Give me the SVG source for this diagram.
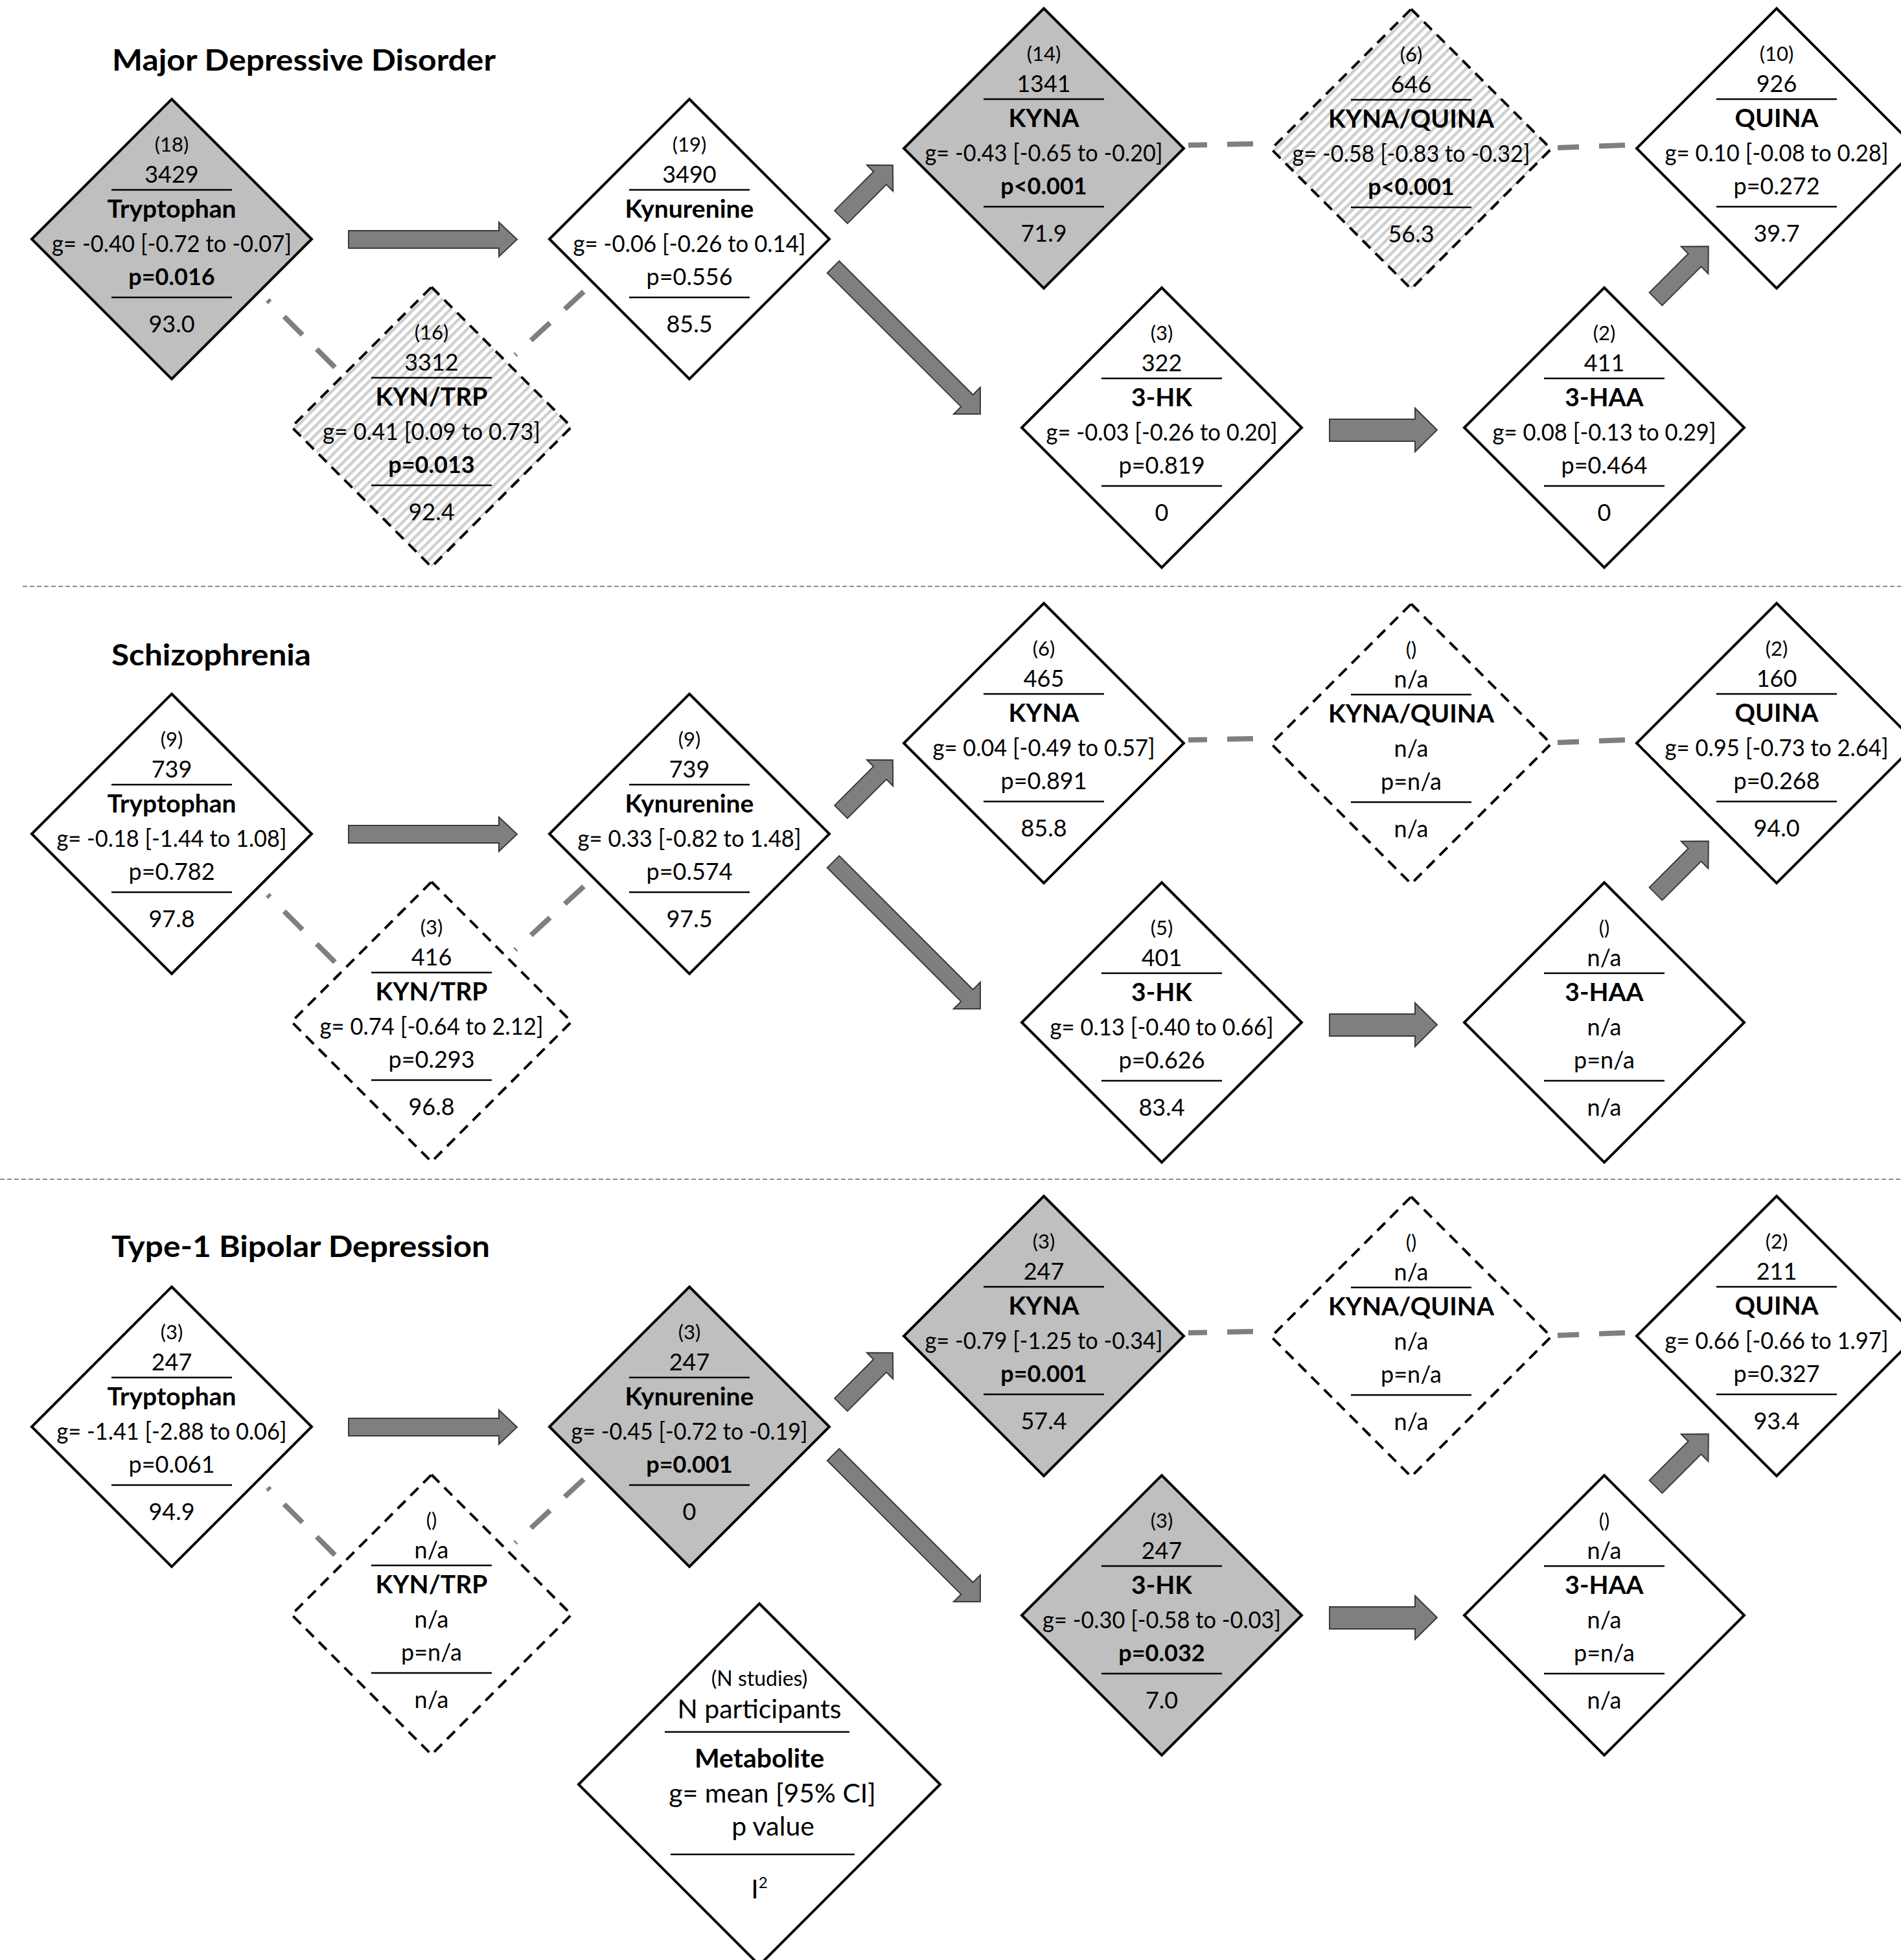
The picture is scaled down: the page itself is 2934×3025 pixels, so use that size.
<svg xmlns="http://www.w3.org/2000/svg" width="2934" height="3025" viewBox="0 0 2934 3025">
<defs>
<pattern id="hatch" width="10" height="10" patternUnits="userSpaceOnUse" patternTransform="rotate(45)">
<rect width="10" height="10" fill="#fff"/>
<rect width="4.5" height="10" fill="#cfcfcf"/>
</pattern>
<style>
text{font-family:Lato,"Liberation Sans",sans-serif;fill:#000;text-anchor:middle}
.t{font-size:46px;font-weight:bold;text-anchor:start}
.n{font-size:31px}
.m{font-size:36px}
.b{font-weight:bold}
.nm{font-size:39px;font-weight:bold}
.d{stroke:#000;stroke-width:4;stroke-linejoin:miter}
.gray{fill:#bfbfbf}
.white{fill:#fff}
.hatch{fill:url(#hatch)}
.dash{stroke-dasharray:17 11}
.hl{stroke:#000;stroke-width:2.5}
.sep{stroke:#8c8c8c;stroke-width:2;stroke-dasharray:7 4}
.arr{fill:#7f7f7f;stroke:#3a3a3a;stroke-width:2}
.con{stroke:#7f7f7f;stroke-width:8;stroke-dasharray:40 31;fill:none}
</style>
</defs>
<rect width="2934" height="3025" fill="#fff"/>

<line class="sep" x1="35" y1="905" x2="2934" y2="905"/>
<line class="sep" x1="0" y1="1820" x2="2934" y2="1820"/>

<text class="t" x="173" y="109" textLength="592" lengthAdjust="spacingAndGlyphs">Major Depressive Disorder</text>
<text class="t" x="172" y="1027" textLength="308" lengthAdjust="spacingAndGlyphs">Schizophrenia</text>
<text class="t" x="172" y="1940" textLength="584" lengthAdjust="spacingAndGlyphs">Type-1 Bipolar Depression</text>

<g id="connectors">
<g transform="translate(0,0)">
<path class="arr" d="M538,356 H770 V343 L798,369.5 L770,396 V383 H538 Z"/>
<path class="arr" d="M0,-14 H85 V-28.5 L113,0 L85,28.5 V14 H0 Z" transform="translate(1298,335) rotate(-45)"/>
<path class="arr" d="M0,-13 H292 V-29 L321,0 L292,29 V13 H0 Z" transform="translate(1286,412) rotate(45)"/>
<path class="arr" d="M2052,647 H2184 V630 L2218,663.5 L2184,697 V681 H2052 Z"/>
<path class="arr" d="M0,-14 H85 V-29.5 L115,0 L85,29.5 V14 H0 Z" transform="translate(2555.5,461.5) rotate(-45)"/>
<path class="con" d="M517,567 L413,463"/>
<path class="con" d="M901,450 L795,548"/>
<path class="con" d="M1934,222 L1834,224"/>
<path class="con" d="M2508,224 L2404,228"/>
</g>
<g transform="translate(0,918)">
<path class="arr" d="M538,356 H770 V343 L798,369.5 L770,396 V383 H538 Z"/>
<path class="arr" d="M0,-14 H85 V-28.5 L113,0 L85,28.5 V14 H0 Z" transform="translate(1298,335) rotate(-45)"/>
<path class="arr" d="M0,-13 H292 V-29 L321,0 L292,29 V13 H0 Z" transform="translate(1286,412) rotate(45)"/>
<path class="arr" d="M2052,647 H2184 V630 L2218,663.5 L2184,697 V681 H2052 Z"/>
<path class="arr" d="M0,-14 H85 V-29.5 L115,0 L85,29.5 V14 H0 Z" transform="translate(2555.5,461.5) rotate(-45)"/>
<path class="con" d="M517,567 L413,463"/>
<path class="con" d="M901,450 L795,548"/>
<path class="con" d="M1934,222 L1834,224"/>
<path class="con" d="M2508,224 L2404,228"/>
</g>
<g transform="translate(0,1833)">
<path class="arr" d="M538,356 H770 V343 L798,369.5 L770,396 V383 H538 Z"/>
<path class="arr" d="M0,-14 H85 V-28.5 L113,0 L85,28.5 V14 H0 Z" transform="translate(1298,335) rotate(-45)"/>
<path class="arr" d="M0,-13 H292 V-29 L321,0 L292,29 V13 H0 Z" transform="translate(1286,412) rotate(45)"/>
<path class="arr" d="M2052,647 H2184 V630 L2218,663.5 L2184,697 V681 H2052 Z"/>
<path class="arr" d="M0,-14 H85 V-29.5 L115,0 L85,29.5 V14 H0 Z" transform="translate(2555.5,461.5) rotate(-45)"/>
<path class="con" d="M517,567 L413,463"/>
<path class="con" d="M901,450 L795,548"/>
<path class="con" d="M1934,222 L1834,224"/>
<path class="con" d="M2508,224 L2404,228"/>
</g>
</g>

<!-- Row 1: MDD -->
<g id="mdd-trp" transform="translate(265,369)">
<polygon class="d gray" points="0,-216 216,0 0,216 -216,0"/>
<text class="n" y="-135">(18)</text><text class="m" y="-87">3429</text>
<line class="hl" x1="-93" y1="-76" x2="93" y2="-76"/>
<text class="nm" y="-33">Tryptophan</text>
<text class="m" y="20" textLength="370" lengthAdjust="spacingAndGlyphs">g= -0.40 [-0.72 to -0.07]</text>
<text class="m b" y="71">p=0.016</text>
<line class="hl" x1="-93" y1="90" x2="93" y2="90"/>
<text class="m" y="144">93.0</text>
</g>
<g id="mdd-kyntrp" transform="translate(666,659)">
<polygon class="d hatch dash" points="0,-216 216,0 0,216 -216,0"/>
<text class="n" y="-135">(16)</text><text class="m" y="-87">3312</text>
<line class="hl" x1="-93" y1="-76" x2="93" y2="-76"/>
<text class="nm" y="-33">KYN/TRP</text>
<text class="m" y="20" textLength="336" lengthAdjust="spacingAndGlyphs">g= 0.41 [0.09 to 0.73]</text>
<text class="m b" y="71">p=0.013</text>
<line class="hl" x1="-93" y1="90" x2="93" y2="90"/>
<text class="m" y="144">92.4</text>
</g>
<g id="mdd-kyn" transform="translate(1064,369)">
<polygon class="d white" points="0,-216 216,0 0,216 -216,0"/>
<text class="n" y="-135">(19)</text><text class="m" y="-87">3490</text>
<line class="hl" x1="-93" y1="-76" x2="93" y2="-76"/>
<text class="nm" y="-33">Kynurenine</text>
<text class="m" y="20" textLength="359" lengthAdjust="spacingAndGlyphs">g= -0.06 [-0.26 to 0.14]</text>
<text class="m" y="71">p=0.556</text>
<line class="hl" x1="-93" y1="90" x2="93" y2="90"/>
<text class="m" y="144">85.5</text>
</g>
<g id="mdd-kyna" transform="translate(1611,229)">
<polygon class="d gray" points="0,-216 216,0 0,216 -216,0"/>
<text class="n" y="-135">(14)</text><text class="m" y="-87">1341</text>
<line class="hl" x1="-93" y1="-76" x2="93" y2="-76"/>
<text class="nm" y="-33">KYNA</text>
<text class="m" y="20" textLength="367" lengthAdjust="spacingAndGlyphs">g= -0.43 [-0.65 to -0.20]</text>
<text class="m b" y="71">p&lt;0.001</text>
<line class="hl" x1="-93" y1="90" x2="93" y2="90"/>
<text class="m" y="144">71.9</text>
</g>
<g id="mdd-kynaquina" transform="translate(2178,230)">
<polygon class="d hatch dash" points="0,-216 216,0 0,216 -216,0"/>
<text class="n" y="-135">(6)</text><text class="m" y="-87">646</text>
<line class="hl" x1="-93" y1="-76" x2="93" y2="-76"/>
<text class="nm" y="-33">KYNA/QUINA</text>
<text class="m" y="20" textLength="367" lengthAdjust="spacingAndGlyphs">g= -0.58 [-0.83 to -0.32]</text>
<text class="m b" y="71">p&lt;0.001</text>
<line class="hl" x1="-93" y1="90" x2="93" y2="90"/>
<text class="m" y="144">56.3</text>
</g>
<g id="mdd-quina" transform="translate(2742,229)">
<polygon class="d white" points="0,-216 216,0 0,216 -216,0"/>
<text class="n" y="-135">(10)</text><text class="m" y="-87">926</text>
<line class="hl" x1="-93" y1="-76" x2="93" y2="-76"/>
<text class="nm" y="-33">QUINA</text>
<text class="m" y="20" textLength="345" lengthAdjust="spacingAndGlyphs">g= 0.10 [-0.08 to 0.28]</text>
<text class="m" y="71">p=0.272</text>
<line class="hl" x1="-93" y1="90" x2="93" y2="90"/>
<text class="m" y="144">39.7</text>
</g>
<g id="mdd-3hk" transform="translate(1793,660)">
<polygon class="d white" points="0,-216 216,0 0,216 -216,0"/>
<text class="n" y="-135">(3)</text><text class="m" y="-87">322</text>
<line class="hl" x1="-93" y1="-76" x2="93" y2="-76"/>
<text class="nm" y="-33">3-HK</text>
<text class="m" y="20" textLength="357" lengthAdjust="spacingAndGlyphs">g= -0.03 [-0.26 to 0.20]</text>
<text class="m" y="71">p=0.819</text>
<line class="hl" x1="-93" y1="90" x2="93" y2="90"/>
<text class="m" y="144">0</text>
</g>
<g id="mdd-3haa" transform="translate(2476,660)">
<polygon class="d white" points="0,-216 216,0 0,216 -216,0"/>
<text class="n" y="-135">(2)</text><text class="m" y="-87">411</text>
<line class="hl" x1="-93" y1="-76" x2="93" y2="-76"/>
<text class="nm" y="-33">3-HAA</text>
<text class="m" y="20" textLength="345" lengthAdjust="spacingAndGlyphs">g= 0.08 [-0.13 to 0.29]</text>
<text class="m" y="71">p=0.464</text>
<line class="hl" x1="-93" y1="90" x2="93" y2="90"/>
<text class="m" y="144">0</text>
</g>

<!-- Row 2: Schizophrenia -->
<g id="scz-trp" transform="translate(265,1287)">
<polygon class="d white" points="0,-216 216,0 0,216 -216,0"/>
<text class="n" y="-135">(9)</text><text class="m" y="-87">739</text>
<line class="hl" x1="-93" y1="-76" x2="93" y2="-76"/>
<text class="nm" y="-33">Tryptophan</text>
<text class="m" y="20" textLength="355" lengthAdjust="spacingAndGlyphs">g= -0.18 [-1.44 to 1.08]</text>
<text class="m" y="71">p=0.782</text>
<line class="hl" x1="-93" y1="90" x2="93" y2="90"/>
<text class="m" y="144">97.8</text>
</g>
<g id="scz-kyntrp" transform="translate(666,1577)">
<polygon class="d white dash" points="0,-216 216,0 0,216 -216,0"/>
<text class="n" y="-135">(3)</text><text class="m" y="-87">416</text>
<line class="hl" x1="-93" y1="-76" x2="93" y2="-76"/>
<text class="nm" y="-33">KYN/TRP</text>
<text class="m" y="20" textLength="345" lengthAdjust="spacingAndGlyphs">g= 0.74 [-0.64 to 2.12]</text>
<text class="m" y="71">p=0.293</text>
<line class="hl" x1="-93" y1="90" x2="93" y2="90"/>
<text class="m" y="144">96.8</text>
</g>
<g id="scz-kyn" transform="translate(1064,1287)">
<polygon class="d white" points="0,-216 216,0 0,216 -216,0"/>
<text class="n" y="-135">(9)</text><text class="m" y="-87">739</text>
<line class="hl" x1="-93" y1="-76" x2="93" y2="-76"/>
<text class="nm" y="-33">Kynurenine</text>
<text class="m" y="20" textLength="345" lengthAdjust="spacingAndGlyphs">g= 0.33 [-0.82 to 1.48]</text>
<text class="m" y="71">p=0.574</text>
<line class="hl" x1="-93" y1="90" x2="93" y2="90"/>
<text class="m" y="144">97.5</text>
</g>
<g id="scz-kyna" transform="translate(1611,1147)">
<polygon class="d white" points="0,-216 216,0 0,216 -216,0"/>
<text class="n" y="-135">(6)</text><text class="m" y="-87">465</text>
<line class="hl" x1="-93" y1="-76" x2="93" y2="-76"/>
<text class="nm" y="-33">KYNA</text>
<text class="m" y="20" textLength="343" lengthAdjust="spacingAndGlyphs">g= 0.04 [-0.49 to 0.57]</text>
<text class="m" y="71">p=0.891</text>
<line class="hl" x1="-93" y1="90" x2="93" y2="90"/>
<text class="m" y="144">85.8</text>
</g>
<g id="scz-kynaquina" transform="translate(2178,1148)">
<polygon class="d white dash" points="0,-216 216,0 0,216 -216,0"/>
<text class="n" y="-135">()</text><text class="m" y="-87">n/a</text>
<line class="hl" x1="-93" y1="-76" x2="93" y2="-76"/>
<text class="nm" y="-33">KYNA/QUINA</text>
<text class="m" y="20">n/a</text>
<text class="m" y="71">p=n/a</text>
<line class="hl" x1="-93" y1="90" x2="93" y2="90"/>
<text class="m" y="144">n/a</text>
</g>
<g id="scz-quina" transform="translate(2742,1147)">
<polygon class="d white" points="0,-216 216,0 0,216 -216,0"/>
<text class="n" y="-135">(2)</text><text class="m" y="-87">160</text>
<line class="hl" x1="-93" y1="-76" x2="93" y2="-76"/>
<text class="nm" y="-33">QUINA</text>
<text class="m" y="20" textLength="345" lengthAdjust="spacingAndGlyphs">g= 0.95 [-0.73 to 2.64]</text>
<text class="m" y="71">p=0.268</text>
<line class="hl" x1="-93" y1="90" x2="93" y2="90"/>
<text class="m" y="144">94.0</text>
</g>
<g id="scz-3hk" transform="translate(1793,1578)">
<polygon class="d white" points="0,-216 216,0 0,216 -216,0"/>
<text class="n" y="-135">(5)</text><text class="m" y="-87">401</text>
<line class="hl" x1="-93" y1="-76" x2="93" y2="-76"/>
<text class="nm" y="-33">3-HK</text>
<text class="m" y="20" textLength="345" lengthAdjust="spacingAndGlyphs">g= 0.13 [-0.40 to 0.66]</text>
<text class="m" y="71">p=0.626</text>
<line class="hl" x1="-93" y1="90" x2="93" y2="90"/>
<text class="m" y="144">83.4</text>
</g>
<g id="scz-3haa" transform="translate(2476,1578)">
<polygon class="d white" points="0,-216 216,0 0,216 -216,0"/>
<text class="n" y="-135">()</text><text class="m" y="-87">n/a</text>
<line class="hl" x1="-93" y1="-76" x2="93" y2="-76"/>
<text class="nm" y="-33">3-HAA</text>
<text class="m" y="20">n/a</text>
<text class="m" y="71">p=n/a</text>
<line class="hl" x1="-93" y1="90" x2="93" y2="90"/>
<text class="m" y="144">n/a</text>
</g>

<!-- Row 3: Bipolar -->
<g id="bd-trp" transform="translate(265,2202)">
<polygon class="d white" points="0,-216 216,0 0,216 -216,0"/>
<text class="n" y="-135">(3)</text><text class="m" y="-87">247</text>
<line class="hl" x1="-93" y1="-76" x2="93" y2="-76"/>
<text class="nm" y="-33">Tryptophan</text>
<text class="m" y="20" textLength="355" lengthAdjust="spacingAndGlyphs">g= -1.41 [-2.88 to 0.06]</text>
<text class="m" y="71">p=0.061</text>
<line class="hl" x1="-93" y1="90" x2="93" y2="90"/>
<text class="m" y="144">94.9</text>
</g>
<g id="bd-kyntrp" transform="translate(666,2492)">
<polygon class="d white dash" points="0,-216 216,0 0,216 -216,0"/>
<text class="n" y="-135">()</text><text class="m" y="-87">n/a</text>
<line class="hl" x1="-93" y1="-76" x2="93" y2="-76"/>
<text class="nm" y="-33">KYN/TRP</text>
<text class="m" y="20">n/a</text>
<text class="m" y="71">p=n/a</text>
<line class="hl" x1="-93" y1="90" x2="93" y2="90"/>
<text class="m" y="144">n/a</text>
</g>
<g id="bd-kyn" transform="translate(1064,2202)">
<polygon class="d gray" points="0,-216 216,0 0,216 -216,0"/>
<text class="n" y="-135">(3)</text><text class="m" y="-87">247</text>
<line class="hl" x1="-93" y1="-76" x2="93" y2="-76"/>
<text class="nm" y="-33">Kynurenine</text>
<text class="m" y="20" textLength="365" lengthAdjust="spacingAndGlyphs">g= -0.45 [-0.72 to -0.19]</text>
<text class="m b" y="71">p=0.001</text>
<line class="hl" x1="-93" y1="90" x2="93" y2="90"/>
<text class="m" y="144">0</text>
</g>
<g id="bd-kyna" transform="translate(1611,2062)">
<polygon class="d gray" points="0,-216 216,0 0,216 -216,0"/>
<text class="n" y="-135">(3)</text><text class="m" y="-87">247</text>
<line class="hl" x1="-93" y1="-76" x2="93" y2="-76"/>
<text class="nm" y="-33">KYNA</text>
<text class="m" y="20" textLength="367" lengthAdjust="spacingAndGlyphs">g= -0.79 [-1.25 to -0.34]</text>
<text class="m b" y="71">p=0.001</text>
<line class="hl" x1="-93" y1="90" x2="93" y2="90"/>
<text class="m" y="144">57.4</text>
</g>
<g id="bd-kynaquina" transform="translate(2178,2063)">
<polygon class="d white dash" points="0,-216 216,0 0,216 -216,0"/>
<text class="n" y="-135">()</text><text class="m" y="-87">n/a</text>
<line class="hl" x1="-93" y1="-76" x2="93" y2="-76"/>
<text class="nm" y="-33">KYNA/QUINA</text>
<text class="m" y="20">n/a</text>
<text class="m" y="71">p=n/a</text>
<line class="hl" x1="-93" y1="90" x2="93" y2="90"/>
<text class="m" y="144">n/a</text>
</g>
<g id="bd-quina" transform="translate(2742,2062)">
<polygon class="d white" points="0,-216 216,0 0,216 -216,0"/>
<text class="n" y="-135">(2)</text><text class="m" y="-87">211</text>
<line class="hl" x1="-93" y1="-76" x2="93" y2="-76"/>
<text class="nm" y="-33">QUINA</text>
<text class="m" y="20" textLength="345" lengthAdjust="spacingAndGlyphs">g= 0.66 [-0.66 to 1.97]</text>
<text class="m" y="71">p=0.327</text>
<line class="hl" x1="-93" y1="90" x2="93" y2="90"/>
<text class="m" y="144">93.4</text>
</g>
<g id="bd-3hk" transform="translate(1793,2493)">
<polygon class="d gray" points="0,-216 216,0 0,216 -216,0"/>
<text class="n" y="-135">(3)</text><text class="m" y="-87">247</text>
<line class="hl" x1="-93" y1="-76" x2="93" y2="-76"/>
<text class="nm" y="-33">3-HK</text>
<text class="m" y="20" textLength="368" lengthAdjust="spacingAndGlyphs">g= -0.30 [-0.58 to -0.03]</text>
<text class="m b" y="71">p=0.032</text>
<line class="hl" x1="-93" y1="90" x2="93" y2="90"/>
<text class="m" y="144">7.0</text>
</g>
<g id="bd-3haa" transform="translate(2476,2493)">
<polygon class="d white" points="0,-216 216,0 0,216 -216,0"/>
<text class="n" y="-135">()</text><text class="m" y="-87">n/a</text>
<line class="hl" x1="-93" y1="-76" x2="93" y2="-76"/>
<text class="nm" y="-33">3-HAA</text>
<text class="m" y="20">n/a</text>
<text class="m" y="71">p=n/a</text>
<line class="hl" x1="-93" y1="90" x2="93" y2="90"/>
<text class="m" y="144">n/a</text>
</g>

<!-- Legend -->
<g id="legend" transform="translate(1172,2754)">
<polygon class="d white" points="0,-279 279,0 0,279 -279,0"/>
<text y="-152" style="font-size:32px">(N studies)</text>
<text y="-102" style="font-size:41px">N participants</text>
<line class="hl" x1="-146" y1="-81" x2="139" y2="-81"/>
<text y="-26" style="font-size:41px;font-weight:bold">Metabolite</text>
<text x="20" y="28" style="font-size:41px">g= mean [95% CI]</text>
<text x="21" y="79" style="font-size:41px">p value</text>
<line class="hl" x1="-137" y1="108" x2="147" y2="108"/>
<text x="0" y="176" style="font-size:41px">I<tspan dy="-16" style="font-size:24px">2</tspan></text>
</g>
</svg>
